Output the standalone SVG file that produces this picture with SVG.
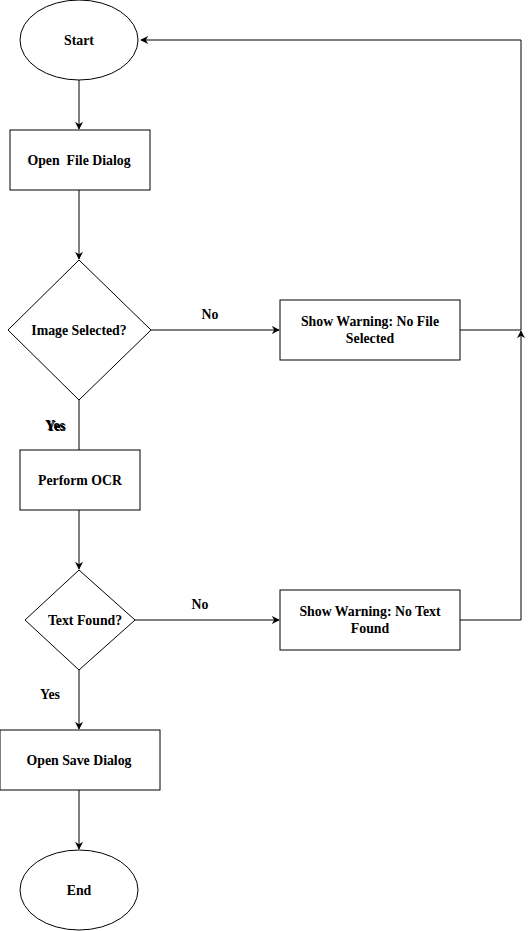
<svg xmlns="http://www.w3.org/2000/svg" width="530" height="931" viewBox="0 0 530 931">
<defs>
<marker id="arr" viewBox="0 0 10 10" refX="9" refY="5" markerWidth="8" markerHeight="8" markerUnits="userSpaceOnUse" orient="auto">
<path d="M0,0 L10,5 L0,10 L3,5 Z" fill="#000"/>
</marker>
</defs>
<style>
.s{fill:#fff;stroke:#000;stroke-width:1}
.t{font-family:"Liberation Serif","Times New Roman",serif;font-weight:bold;font-size:13.8px;fill:#000;text-anchor:middle}
.c{fill:none;stroke:#000;stroke-width:1}
</style>
<rect width="530" height="931" fill="#fff"/>
<g id="connectors">
<path class="c" d="M79,80 V129" marker-end="url(#arr)"/>
<path class="c" d="M79,190 V259" marker-end="url(#arr)"/>
<path class="c" d="M151,330 H279" marker-end="url(#arr)"/>
<path class="c" d="M460,330 H521 V40 H141" marker-end="url(#arr)"/>
<path class="c" d="M460,620 H521 V331" marker-end="url(#arr)"/>
<path class="c" d="M79,400 V450"/>
<path class="c" d="M79,510 V569" marker-end="url(#arr)"/>
<path class="c" d="M135,620 H279" marker-end="url(#arr)"/>
<path class="c" d="M79,670 V729" marker-end="url(#arr)"/>
<path class="c" d="M79,790 V849" marker-end="url(#arr)"/>
<text class="t" x="210" y="319">No</text>
<text class="t" x="55" y="430">Yes</text>
<text class="t" x="56" y="431">Yes</text>
<text class="t" x="200" y="609">No</text>
<text class="t" x="50" y="699">Yes</text>
</g>
<g id="start">
<ellipse class="s" cx="79" cy="40" rx="59" ry="40"/>
<text class="t" x="79" y="45">Start</text>
</g>
<g id="openFile">
<rect class="s" x="10" y="130" width="140" height="60"/>
<text class="t" x="79" y="165" xml:space="preserve">Open  File Dialog</text>
</g>
<g id="imageSelected">
<polygon class="s" points="79,260 151,330 79,400 8,330"/>
<text class="t" x="79" y="335">Image Selected?</text>
</g>
<g id="warnFile">
<rect class="s" x="280" y="300" width="180" height="60"/>
<text class="t" x="370" y="326">Show Warning: No File</text>
<text class="t" x="370" y="343">Selected</text>
</g>
<g id="ocr">
<rect class="s" x="20" y="450" width="120" height="60"/>
<text class="t" x="80" y="485">Perform OCR</text>
</g>
<g id="textFound">
<polygon class="s" points="79,570 135,620 79,670 25,620"/>
<text class="t" x="85" y="625">Text Found?</text>
</g>
<g id="warnText">
<rect class="s" x="280" y="590" width="180" height="60"/>
<text class="t" x="370" y="616">Show Warning: No Text</text>
<text class="t" x="370" y="633">Found</text>
</g>
<g id="saveDialog">
<rect class="s" x="0" y="730" width="160" height="60"/>
<text class="t" x="79" y="765">Open Save Dialog</text>
</g>
<g id="end">
<ellipse class="s" cx="79" cy="890" rx="59" ry="40"/>
<text class="t" x="79" y="895">End</text>
</g>
</svg>
